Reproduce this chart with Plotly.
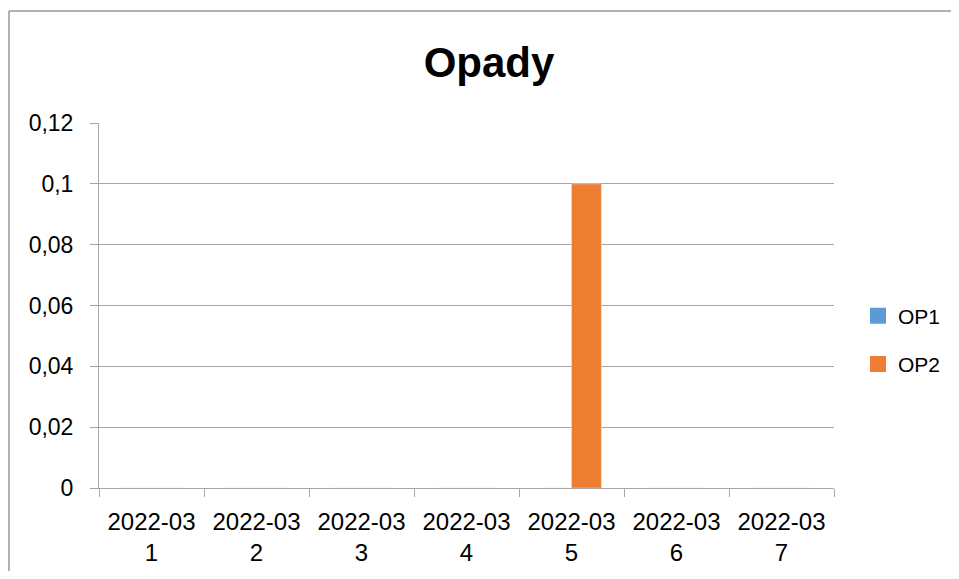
import plotly.graph_objects as go

categories = ["2022-03<br>1", "2022-03<br>2", "2022-03<br>3", "2022-03<br>4",
              "2022-03<br>5", "2022-03<br>6", "2022-03<br>7"]
op1 = [0, 0, 0, 0, 0, 0, 0]
op2 = [0, 0, 0, 0, 0.1, 0, 0]
y_tickvals = [0, 0.02, 0.04, 0.06, 0.08, 0.1, 0.12]
y_ticktext = ["0", "0,02", "0,04", "0,06", "0,08", "0,1", "0,12"]
series_names = ["OP1", "OP2"]
series_colors = ["#5B9BD5", "#ED7D31"]

FONT = "Liberation Sans, Arial, sans-serif"
GRID = "#A6A6A6"

# page has an 8px body margin; keep the figure inside the window (no scrollbars)
OFF = 8
W, H = 959 - 2 * OFF, 579 - 2 * OFF
L, T = 99 - OFF, 123 - OFF
R = (W + OFF) - 834
B = (H + OFF) - 488
PW, PH = W - L - R, H - T - B

fig = go.Figure()
for name, vals, col, grp in zip(series_names, [op1, op2], series_colors, ["a", "b"]):
    fig.add_trace(go.Bar(name=name, x=categories, y=vals, marker_color=col,
                         showlegend=False, legendgroup=grp))
    # legend proxy with a larger square symbol
    fig.add_trace(go.Scatter(name=name, x=[None], y=[None], mode="markers",
                             marker=dict(symbol="square", size=16, color=col),
                             legendgroup=grp, showlegend=True))

def px_x(px):
    return (px - 99) / PW

def px_y(py):
    return (488 - py) / PH

fig.update_layout(
    width=W, height=H,
    margin=dict(l=L, r=R, t=T, b=B, autoexpand=False),
    paper_bgcolor="white", plot_bgcolor="white",
    barmode="group", bargap=0.43, bargroupgap=0,
    font=dict(family=FONT, size=24, color="black"),
    title=dict(text="<b>Opady</b>", x=(489 - OFF) / W, xanchor="center",
               y=1 - (62 - OFF) / H, yanchor="middle", yref="container",
               font=dict(family=FONT, size=42, color="black")),
    legend=dict(xref="container", yref="container",
                x=(858 - OFF) / W, xanchor="left",
                y=1 - (340 - OFF) / H, yanchor="middle",
                tracegroupgap=18, font=dict(size=21), bgcolor="rgba(0,0,0,0)"),
    showlegend=True,
)
fig.update_xaxes(
    type="category", showgrid=False, showline=True, linecolor=GRID, linewidth=1,
    ticks="outside", tickson="boundaries", ticklen=8, tickcolor=GRID,
    ticklabelstandoff=12, tickfont=dict(size=24), automargin=False,
)
fig.update_yaxes(
    range=[0, 0.12], tickvals=y_tickvals, ticktext=y_ticktext,
    showgrid=True, gridcolor=GRID, gridwidth=1,
    showline=True, linecolor=GRID, linewidth=1,
    ticks="outside", ticklen=8, tickcolor=GRID, ticklabelstandoff=12,
    zeroline=False, tickfont=dict(size=23), automargin=False,
)
# chart border (Excel chart area outline)
fig.add_shape(type="line", xref="paper", yref="paper",
              x0=px_x(9), x1=px_x(975), y0=px_y(11), y1=px_y(11),
              line=dict(color="#999999", width=1.5))
fig.add_shape(type="line", xref="paper", yref="paper",
              x0=px_x(9), x1=px_x(9), y0=px_y(11), y1=px_y(600),
              line=dict(color="#999999", width=1.5))

fig.write_html("out.html")
